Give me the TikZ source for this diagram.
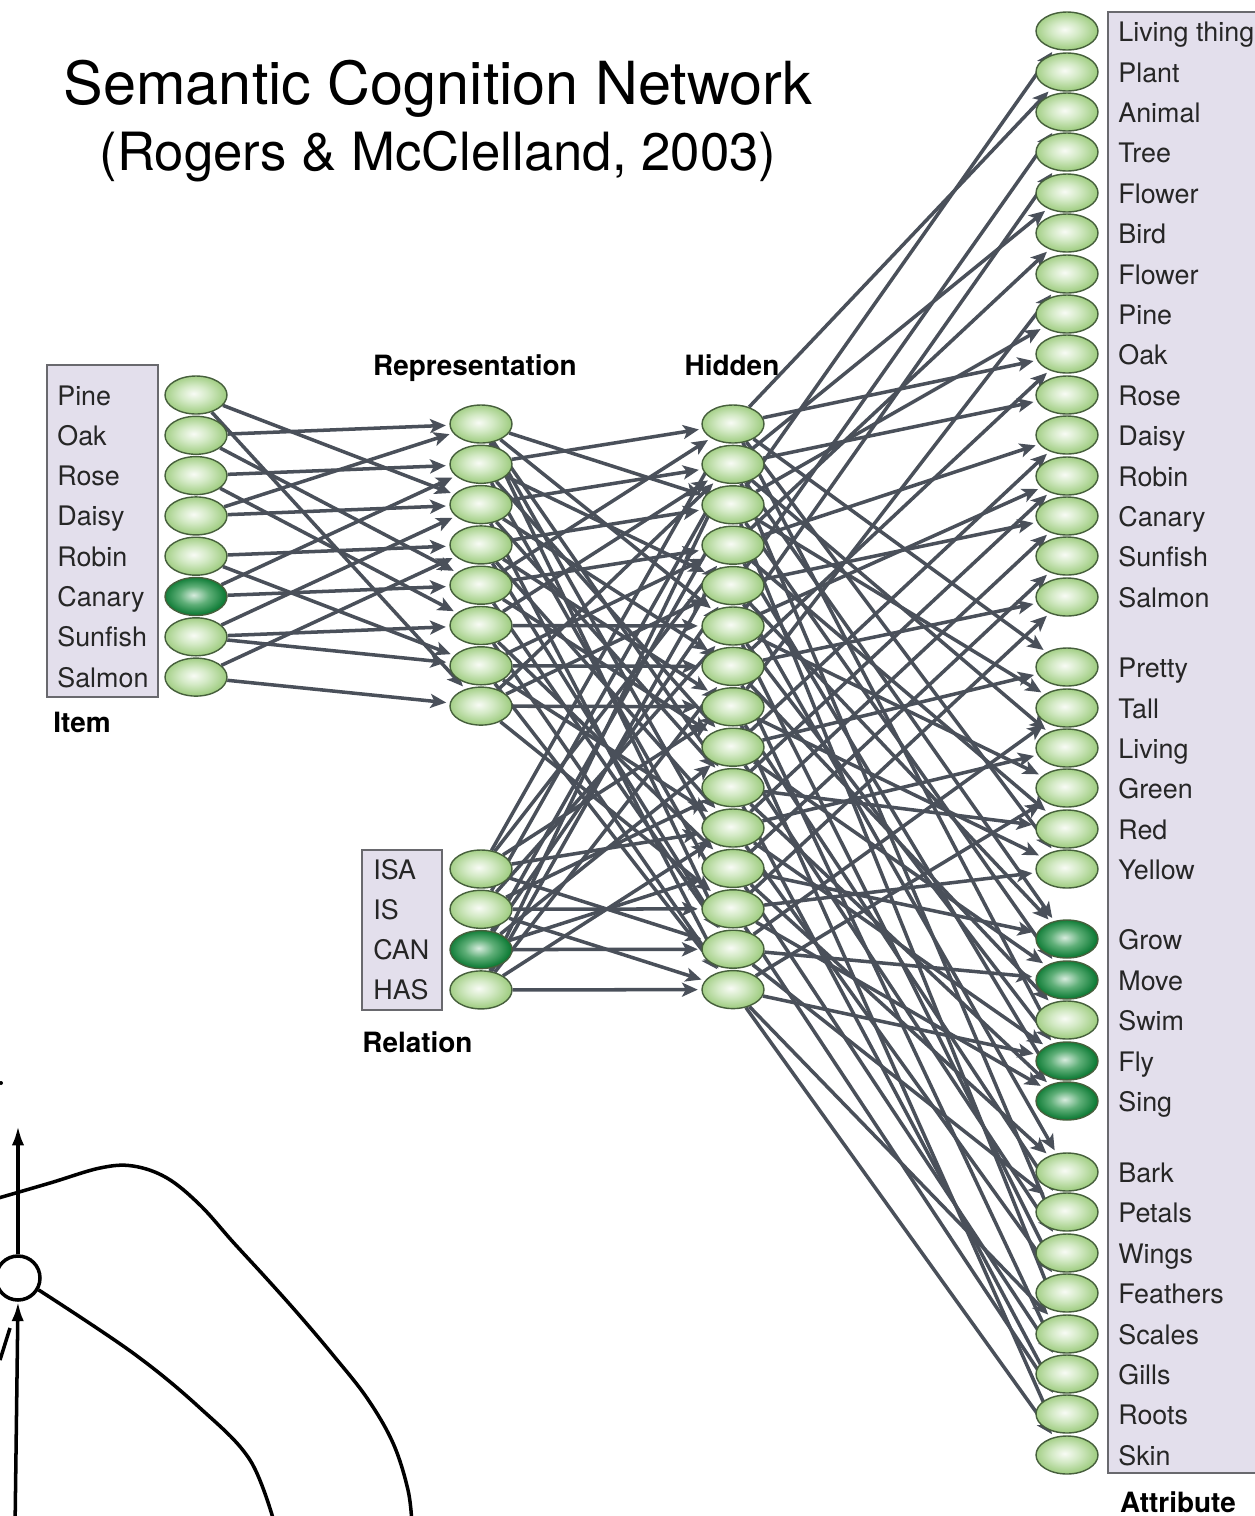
\documentclass[tikz,border=0pt]{standalone}
\usepackage{fontspec}
\setmainfont{TeX Gyre Heros}
\usetikzlibrary{arrows.meta,shapes.geometric}

\definecolor{wire}{RGB}{74,80,90}
\definecolor{boxfill}{RGB}{227,223,236}
\definecolor{boxline}{RGB}{105,105,110}
\definecolor{unitline}{RGB}{70,95,60}
\definecolor{lgcore}{RGB}{248,251,245}
\definecolor{lgmid}{RGB}{212,234,198}
\definecolor{lgedge}{RGB}{160,205,130}
\definecolor{dgcore}{RGB}{215,236,222}
\definecolor{dgmid}{RGB}{95,175,120}
\definecolor{dgedge}{RGB}{12,122,52}

\pgfdeclareradialshading{unitlight}{\pgfpoint{-2bp}{2bp}}{color(0bp)=(lgcore); color(11bp)=(lgmid); color(25bp)=(lgedge); color(50bp)=(lgedge)}
\pgfdeclareradialshading{unitdark}{\pgfpoint{-2bp}{2bp}}{color(0bp)=(dgcore); color(12bp)=(dgmid); color(25bp)=(dgedge); color(50bp)=(dgedge)}

\pgfdeclarelayer{wires}
\pgfsetlayers{wires,main}

\tikzset{
  unit/.style={ellipse, draw=unitline, line width=0.8pt, minimum width=1.24cm,
    minimum height=0.76cm, inner sep=0pt, shade, shading=unitlight},
  active/.style={unit, shading=unitdark},
  lab/.style={anchor=base west, inner sep=0pt, font=\fontsize{15.3pt}{18pt}\selectfont, text=black!85},
  layer/.style={anchor=base, inner sep=0pt, font=\fontsize{15.9pt}{19pt}\selectfont\bfseries},
  labelbox/.style={draw=boxline, fill=boxfill, line width=1.1pt},
  wirearrow/.style={draw=wire, line width=2pt,
    -{Stealth[length=9pt,width=8pt,inset=2.2pt]}, shorten >=2pt},
  ink/.style={draw=black, line width=2pt},
}

\begin{document}
\begin{tikzpicture}[x=0.02cm,y=-0.02cm]
\useasboundingbox (0,0) rectangle (1255,1516);
\clip (0,0) rectangle (1255,1516);

% title
\node[anchor=base, inner sep=0pt, font=\fontsize{33.8pt}{40pt}\selectfont] (title1) at (438,104) {Semantic Cognition Network};
\node[anchor=base, inner sep=0pt, font=\fontsize{30pt}{36pt}\selectfont] (title2) at (438,170) {(Rogers \& McClelland, 2003)};

% label boxes
\draw[labelbox] (47,365) rectangle (158,697);
\draw[labelbox] (362,850) rectangle (442,1010);
\draw[labelbox] (1108,12) rectangle (1275,1473);

% item layer
\foreach \t/\s [count=\i] in {Pine/unit,Oak/unit,Rose/unit,Daisy/unit,Robin/unit,Canary/active,Sunfish/unit,Salmon/unit}{
  \node[\s] (i\i) at (196,{395+(\i-1)*40.3}) {};
  \node[lab] (il\i) at (57,{395+(\i-1)*40.3+10}) {\t};
}
\node[layer, anchor=base west] (itemname) at (53,732) {Item};

% representation layer
\foreach \i in {1,...,8}{
  \node[unit] (r\i) at (481,{424+(\i-1)*40.3}) {};
}
\node[layer] (repname) at (475,375) {Representation};

% relation layer
\foreach \t/\s [count=\i] in {ISA/unit,IS/unit,CAN/active,HAS/unit}{
  \node[\s] (q\i) at (481,{869+(\i-1)*40.3}) {};
  \node[lab] (ql\i) at (373,{869+(\i-1)*40.3+10}) {\t};
}
\node[layer, anchor=base west] (relname) at (362,1052) {Relation};

% hidden layer
\foreach \i in {1,...,15}{
  \node[unit] (h\i) at (733,{424+(\i-1)*40.4}) {};
}
\node[layer] (hidname) at (732,375) {Hidden};

% attribute layer
\foreach \t/\s/\y [count=\i] in {
  Living thing/unit/31, Plant/unit/72, Animal/unit/112, Tree/unit/152, Flower/unit/193,
  Bird/unit/233, Flower/unit/274, Pine/unit/314, Oak/unit/354, Rose/unit/395,
  Daisy/unit/435, Robin/unit/476, Canary/unit/516, Sunfish/unit/556, Salmon/unit/597,
  Pretty/unit/667, Tall/unit/708, Living/unit/748, Green/unit/788, Red/unit/829, Yellow/unit/869,
  Grow/active/939, Move/active/980, Swim/unit/1020, Fly/active/1061, Sing/active/1101,
  Bark/unit/1172, Petals/unit/1212, Wings/unit/1253, Feathers/unit/1293,
  Scales/unit/1334, Gills/unit/1374, Roots/unit/1414, Skin/unit/1455}{
  \node[\s] (a\i) at (1067,\y) {};
  \node[lab] (al\i) at (1118,{\y+10}) {\t};
}
\node[layer] (attrname) at (1178,1512) {Attribute};

\begin{pgfonlayer}{wires}
% item -> representation
\foreach \a/\b in {1/3,1/8,2/1,2/5,3/2,3/6,4/1,4/3,5/4,5/7,6/2,6/5,7/3,7/7,7/6,8/4,8/8}{
  \draw[wirearrow] (i\a) -- (r\b);
}

% representation -> hidden
\foreach \a/\b in {1/3,1/6,1/10,1/12,1/14,2/1,2/5,2/9,2/13,3/2,3/7,3/10,3/15,
  4/3,4/8,4/11,4/14,5/4,5/1,5/9,5/14,6/6,6/2,6/12,6/15,7/7,7/4,7/11,7/15,8/5,8/8,8/13,8/2}{
  \draw[wirearrow] (r\a) -- (h\b);
}

% relation -> hidden
\foreach \a/\b in {1/1,1/4,1/8,1/11,1/14,2/2,2/6,2/10,2/13,2/15,
  3/3,3/5,3/9,3/14,3/12,4/2,4/7,4/11,4/15,4/4}{
  \draw[wirearrow] (q\a) -- (h\b);
}

% hidden -> attribute
\foreach \a/\b in {3/1,1/2,5/3,6/4,2/5,4/6,8/7,3/8,1/9,7/9,2/10,9/11,4/11,
  6/12,10/12,11/13,5/13,12/14,13/15,7/15,
  1/16,9/16,14/17,3/17,2/18,11/18,6/19,15/19,10/20,4/20,13/21,8/21,1/21,
  2/22,12/22,5/22,3/23,9/23,14/23,7/24,1/25,6/25,11/25,15/25,4/26,10/26,13/26,
  5/27,12/27,8/28,14/28,2/29,9/29,11/30,6/30,15/31,3/31,12/32,7/32,10/33,13/33,15/34,8/34}{
  \draw[wirearrow] (h\a) -- (a\b);
}
\end{pgfonlayer}

% partial neuron sketch in the lower left corner
\node[circle, ink, fill=white, minimum size=0.88cm, inner sep=0pt] (cell) at (18,1278) {};
\coordinate (axontop) at (18,1126);
\coordinate (dendbase) at (15,1530);
\draw[ink, -{Latex[length=11pt,width=7pt]}] (cell.north) -- (axontop);
\draw[ink, -{Latex[length=11pt,width=7pt]}] (dendbase) -- (cell.south);
\draw[ink] (0,1360) -- (10,1328);
\fill (1,1083) circle (2);
\draw[ink] plot[smooth, tension=0.6] coordinates {(-5,1199) (50,1183) (100,1168) (133,1166) (167,1178) (200,1205) (233,1242) (267,1279) (300,1316) (333,1355) (367,1398) (393,1443) (408,1490) (412,1525)};
\draw[ink] plot[smooth, tension=0.6] coordinates {(cell.-30) (133,1353) (200,1408) (250,1460) (275,1525)};
\end{tikzpicture}
\end{document}
